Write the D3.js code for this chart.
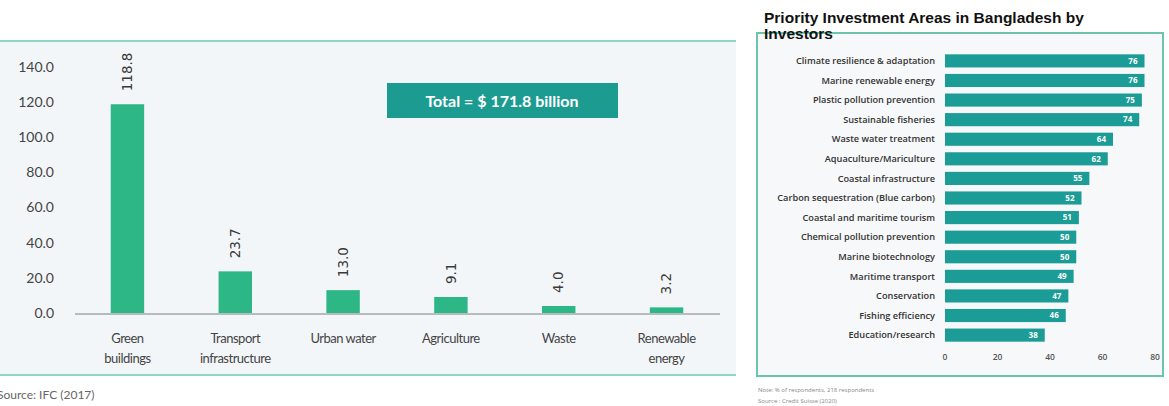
<!DOCTYPE html>
<html>
<head>
<meta charset="utf-8">
<script src="https://cdn.jsdelivr.net/npm/d3@7"></script>
<style>
  body { margin: 0; background: #fff; }
  svg { display: block; }
</style>
</head>
<body>
<svg width="1169" height="406"></svg>
<script>
var sectors = ["Green buildings", "Transport infrastructure", "Urban water", "Agriculture", "Waste", "Renewable energy"];
var sectorLines = [["Green", "buildings"], ["Transport", "infrastructure"], ["Urban water"], ["Agriculture"], ["Waste"], ["Renewable", "energy"]];
var investment = [118.8, 23.7, 13.0, 9.1, 4.0, 3.2];
var yTicks = [0, 20, 40, 60, 80, 100, 120, 140];

var areas = ["Climate resilience & adaptation", "Marine renewable energy", "Plastic pollution prevention",
  "Sustainable fisheries", "Waste water treatment", "Aquaculture/Mariculture", "Coastal infrastructure",
  "Carbon sequestration (Blue carbon)", "Coastal and maritime tourism", "Chemical pollution prevention",
  "Marine biotechnology", "Maritime transport", "Conservation", "Fishing efficiency", "Education/research"];
var respondents = [76, 76, 75, 74, 64, 62, 55, 52, 51, 50, 50, 49, 47, 46, 38];
var xTicks = [0, 20, 40, 60, 80];

var svg = d3.select("svg");

// ---- left panel ----
svg.append("rect").attr("x", 0).attr("y", 41).attr("width", 736).attr("height", 334).attr("fill", "#f3f6f9");
svg.append("line").attr("x1", 0).attr("x2", 736).attr("y1", 41).attr("y2", 41)
  .attr("stroke", "#8fd6c6").attr("stroke-width", 2);
svg.append("line").attr("x1", 0).attr("x2", 736).attr("y1", 375).attr("y2", 375)
  .attr("stroke", "#8fd6c6").attr("stroke-width", 2);

var x = d3.scaleBand().domain(sectors).range([73, 721]).paddingInner(0.69).paddingOuter(0.35);
var y = d3.scaleLinear().domain([0, 140]).range([313, 67]);

var left = svg.append("g").attr("font-family", "Lato, sans-serif");

left.append("g").selectAll("text").data(yTicks).enter().append("text")
  .attr("x", 54).attr("y", function(d) { return y(d); }).attr("dy", "0.35em")
  .attr("text-anchor", "end").attr("font-size", 14).attr("fill", "#444")
  .text(function(d) { return d.toFixed(1); });

left.append("g").selectAll("rect").data(investment).enter().append("rect")
  .attr("x", function(d, i) { return x(sectors[i]); })
  .attr("y", function(d) { return y(d); })
  .attr("width", x.bandwidth())
  .attr("height", function(d) { return y(0) - y(d); })
  .attr("fill", "#2db686");

left.append("line").attr("x1", 75).attr("x2", 720).attr("y1", y(0) + 1).attr("y2", y(0) + 1)
  .attr("stroke", "#b4bcbc").attr("stroke-width", 2);

left.append("g").selectAll("text").data(investment).enter().append("text")
  .attr("transform", function(d, i) {
    return "translate(" + (x(sectors[i]) + x.bandwidth() / 2) + "," + (y(d) - 13) + ") rotate(-90)";
  })
  .attr("dy", "0.35em").attr("font-family", "DejaVu Sans, sans-serif")
  .attr("font-size", 13.5).attr("fill", "#3a3a3a")
  .text(function(d) { return d.toFixed(1); });

var lbl = left.append("g").selectAll("text").data(sectorLines).enter().append("text")
  .attr("x", function(d, i) { return x(sectors[i]) + x.bandwidth() / 2; })
  .attr("y", 343).attr("text-anchor", "middle").attr("font-size", 13)
  .attr("letter-spacing", "-0.5").attr("fill", "#444");
lbl.selectAll("tspan").data(function(d) { return d; }).enter().append("tspan")
  .attr("x", function() { return d3.select(this.parentNode).attr("x"); })
  .attr("dy", function(d, i) { return i ? 20 : 0; })
  .text(function(d) { return d; });

left.append("rect").attr("x", 387).attr("y", 83).attr("width", 231).attr("height", 35).attr("fill", "#1c9c90");
left.append("text").attr("x", 502).attr("y", 101).attr("dy", "0.35em").attr("text-anchor", "middle")
  .attr("font-size", 16).attr("font-weight", "bold").attr("fill", "#fff")
  .text("Total = $ 171.8 billion");

left.append("text").attr("x", -3).attr("y", 399).attr("font-size", 12).attr("fill", "#666")
  .text("Source: IFC (2017)");

// ---- right panel ----
var right = svg.append("g");
right.append("rect").attr("x", 757).attr("y", 33).attr("width", 406).attr("height", 343)
  .attr("fill", "#f7f8fa").attr("stroke", "#6cc4ad").attr("stroke-width", 2);

right.append("text").attr("font-family", "Liberation Sans, Arial, sans-serif")
  .attr("font-size", 15.5).attr("font-weight", "bold").attr("fill", "#111")
  .selectAll("tspan").data(["Priority Investment Areas in Bangladesh by", "Investors"]).enter().append("tspan")
  .attr("x", 764).attr("y", function(d, i) { return 23 + i * 16; })
  .text(function(d) { return d; });

var bx = d3.scaleLinear().domain([0, 80]).range([945, 1155]);
var by = d3.scaleBand().domain(areas).range([51, 345]).paddingInner(0.33).paddingOuter(0.17);

right.append("g").selectAll("rect").data(respondents).enter().append("rect")
  .attr("x", bx(0))
  .attr("y", function(d, i) { return by(areas[i]); })
  .attr("width", function(d) { return bx(d) - bx(0); })
  .attr("height", by.bandwidth())
  .attr("fill", "#1b9c97");

right.append("g").selectAll("text").data(respondents).enter().append("text")
  .attr("x", function(d) { return bx(d) - 7; })
  .attr("y", function(d, i) { return by(areas[i]) + by.bandwidth() / 2; })
  .attr("dy", "0.35em").attr("text-anchor", "end")
  .attr("font-family", "Open Sans, sans-serif").attr("font-size", 8).attr("font-weight", "bold")
  .attr("fill", "#fff")
  .text(function(d) { return d; });

right.append("g").selectAll("text").data(areas).enter().append("text")
  .attr("x", 935)
  .attr("y", function(d) { return by(d) + by.bandwidth() / 2; })
  .attr("dy", "0.35em").attr("text-anchor", "end")
  .attr("font-family", "Open Sans, sans-serif").attr("font-size", 9.2).attr("font-weight", 600)
  .attr("fill", "#333")
  .text(function(d) { return d; });

right.append("g").selectAll("text").data(xTicks).enter().append("text")
  .attr("x", function(d) { return bx(d); }).attr("y", 357).attr("dy", "0.35em")
  .attr("text-anchor", "middle").attr("font-family", "Open Sans, sans-serif")
  .attr("font-size", 8.5).attr("font-weight", 600).attr("fill", "#555")
  .text(function(d) { return d; });

right.append("g").attr("font-family", "Open Sans, sans-serif").attr("font-size", 6).attr("fill", "#888")
  .selectAll("text").data(["Note: % of respondents, 218 respondents", "Source : Credit Suisse (2020)"])
  .enter().append("text")
  .attr("x", 758).attr("y", function(d, i) { return 392 + i * 11; })
  .text(function(d) { return d; });
</script>
</body>
</html>
